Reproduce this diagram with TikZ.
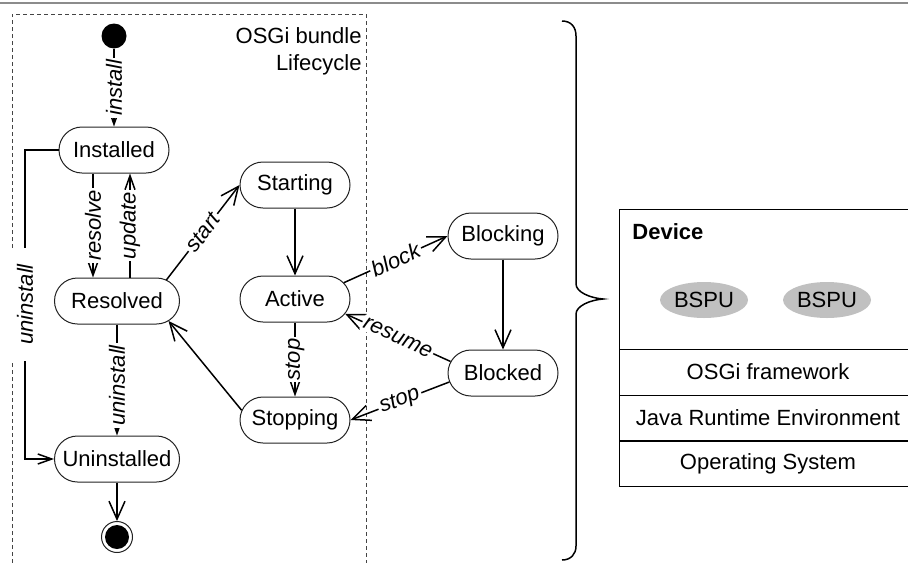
\documentclass[tikz,border=0pt]{standalone}
\usepackage{fontspec}
\setmainfont{Liberation Sans}
\usepackage{tikz}
\usetikzlibrary{arrows.meta,calc,shapes.geometric}
\definecolor{ink}{HTML}{000000}
\definecolor{rim}{HTML}{222222}
\definecolor{frame}{HTML}{444444}
\definecolor{topline}{HTML}{8C8C8C}
\definecolor{unitgray}{HTML}{C0C0C0}
\tikzset{
  state/.style={rectangle, rounded corners=11.5pt, draw=rim, line width=0.5pt, fill=white, minimum height=23pt, minimum width=55pt, inner xsep=1pt},
  wide/.style={minimum width=62.5pt},
  flow/.style={-{Straight Barb[length=9pt,width=8pt]}, line width=0.75pt, draw=ink},
  flows/.style={-{Straight Barb[length=7pt,width=5pt]}, line width=0.75pt, draw=ink},
  lbl/.style={fill=white, inner sep=1pt, font=\fontsize{11}{13}\selectfont\itshape},
  layer/.style={rectangle, draw=ink, line width=0.5pt, minimum width=149pt, minimum height=23pt, inner sep=0pt},
  unit/.style={ellipse, fill=unitgray, minimum width=44pt, minimum height=18pt, inner sep=0pt},
  frm/.style={draw=frame, line width=0.5pt, dash pattern=on 2pt off 1.5pt},
}
\begin{document}
\begin{tikzpicture}[x=0.5pt,y=-0.5pt,font=\fontsize{11}{13}\selectfont]
  \clip (0,0) rectangle (908,562);
  \draw[topline, line width=1pt] (0,3) -- (908,3);
  % lifecycle frame
  \draw[frm] (12,570) |- (366,14) -- (366,570);
  \node[anchor=east, align=right, inner sep=0pt, font=\fontsize{11}{13.5}\selectfont] (title) at (362,51.5) {OSGi bundle\\Lifecycle};
  % states
  \node[circle, fill=ink, minimum size=12.5pt, inner sep=0pt] (init) at (114,36) {};
  \node[state] (inst) at (114,150) {Installed};
  \node[state,wide] (res) at (117,301) {Resolved};
  \node[state,wide] (unin) at (117,459) {Uninstalled};
  \node[circle, draw=rim, line width=0.5pt, fill=white, minimum size=15.5pt, inner sep=0pt] (fin) at (117,537) {};
  \node[circle, fill=ink, minimum size=12pt, inner sep=0pt] (fincore) at (fin) {};
  \node[state] (sta) at (295,185) {Starting};
  \node[state] (act) at (295,299) {Active};
  \node[state] (stp) at (295,420) {Stopping};
  \node[state] (blkg) at (503,236) {Blocking};
  \node[state] (blkd) at (503,373) {Blocked};
  % points on the round ends
  \coordinate (resup) at ($(res.east)+(-11.5pt,0pt)+(66:11.5pt)$);
  \coordinate (resdn) at ($(res.east)+(-11.5pt,0pt)+(-60:11.5pt)$);
  \coordinate (actup) at ($(act.east)+(-11.5pt,0pt)+(45:11.5pt)$);
  \coordinate (actdn) at ($(act.east)+(-11.5pt,0pt)+(-40:11.5pt)$);
  \coordinate (blkdup) at ($(blkd.west)+(11.5pt,0pt)+(150:11.5pt)$);
  \coordinate (blkddn) at ($(blkd.west)+(11.5pt,0pt)+(203:11.5pt)$);
  \coordinate (stpup) at ($(stp.west)+(11.5pt,0pt)+(155:11.5pt)$);
  % transitions
  \draw[flows] (init) -- node[lbl,rotate=90]{install} (inst);
  \draw[flows] ([xshift=-10.5pt]inst.south) -- node[lbl,rotate=90]{resolve} ([xshift=-10.5pt]inst.south |- res.north);
  \draw[flows] ([xshift=8pt]inst.south |- res.north) -- node[lbl,rotate=90]{update} ([xshift=8pt]inst.south);
  \draw[flows] (inst.west) -- ++(-33.5,0) |- node[lbl,rotate=90,pos=0.25,inner xsep=8pt,inner ysep=3pt]{uninstall} (unin.west);
  \draw[flows] (res) -- node[lbl,rotate=90,pos=0.55]{uninstall} (unin);
  \draw[flow] (unin) -- (fin);
  \draw[flow] (resup) -- node[lbl,sloped]{start} (sta.west);
  \draw[flow] (sta) -- (act);
  \draw[flows] (act) -- node[lbl,rotate=90]{stop} (stp);
  \draw[flow] (actup) -- node[lbl,sloped]{block} (blkg.west);
  \draw[flow] (blkg) -- (blkd);
  \draw[flow] (blkdup) -- node[lbl,sloped]{resume} (actdn);
  \draw[flow] (blkddn) -- node[lbl,sloped]{stop} (stp.east);
  \draw[flow] (stpup) -- (resdn);
  % brace
  \draw[ink, line width=0.75pt] (562,21) .. controls (571,21) and (576,27) .. (576,36) -- (576,284) .. controls (576,292) and (590,298) .. (603,299) .. controls (590,300) and (576,306) .. (576,314) -- (576,546) .. controls (576,554) and (571,560) .. (562,560);
  % device stack
  \node[layer, minimum height=70pt] (dev) at (768,279) {};
  \node[anchor=west, inner sep=0pt, font=\fontsize{11}{13}\selectfont\bfseries] (devlbl) at (632,232) {Device};
  \node[unit] (bspa) at (704,300) {BSPU};
  \node[unit] (bspb) at (827,300) {BSPU};
  \node[layer] (osgi) at (768,372) {OSGi framework};
  \node[layer] (jre) at (768,418) {Java Runtime Environment};
  \node[layer] (os) at (768,463.5) {Operating System};
\end{tikzpicture}
\end{document}
